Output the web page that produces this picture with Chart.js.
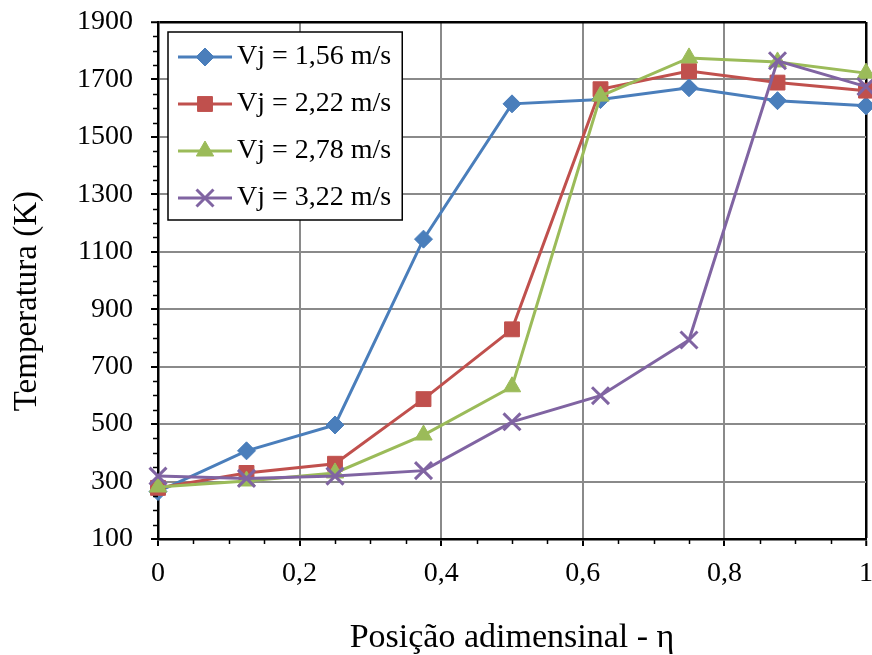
<!DOCTYPE html>
<html>
<head>
<meta charset="utf-8">
<script src="https://cdn.jsdelivr.net/npm/chart.js@4/dist/chart.umd.min.js"></script>
<style>
html,body{margin:0;padding:0;background:#fff;}
#wrap{width:872px;height:655px;position:relative;}
</style>
</head>
<body>
<div id="wrap"><canvas id="c" width="872" height="655"></canvas></div>
<script>
// ---- data ----
const positions = [0, 0.125, 0.25, 0.375, 0.5, 0.625, 0.75, 0.875, 1];
const seriesLabels = ['Vj = 1,56 m/s', 'Vj = 2,22 m/s', 'Vj = 2,78 m/s', 'Vj = 3,22 m/s'];
const tempVj156 = [265, 407, 497, 1144, 1615, 1630, 1671, 1626, 1608];
const tempVj222 = [278, 330, 362, 587, 830, 1666, 1729, 1689, 1661];
const tempVj278 = [281, 302, 330, 462, 630, 1642, 1775, 1761, 1722];
const tempVj322 = [319, 311, 319, 338, 508, 599, 793, 1765, 1675];
const xTickLabels = ['0', '0,2', '0,4', '0,6', '0,8', '1'];
const yTickLabels = ['100', '300', '500', '700', '900', '1100', '1300', '1500', '1700', '1900'];
const xTitle = 'Posição adimensinal - η';
const yTitle = 'Temperatura (K)';

// ---- styles ----
const colors = ['#4A7EBB', '#C0504D', '#9BBB59', '#8064A2'];
const markers = ['rectRot', 'rect', 'triangle', 'crossRot'];
const markerRadius = [9, 10.5, 10, 12];
const markerBorder = [1, 1, 1, 3];
const FONT = 'Liberation Serif';
const GRID = '#8a8a8a';

function drawMarker(ctx, style, r, x, y) {
  ctx.beginPath();
  if (style === 'rectRot') {
    ctx.moveTo(x - r, y); ctx.lineTo(x, y - r); ctx.lineTo(x + r, y); ctx.lineTo(x, y + r); ctx.closePath();
    ctx.fill(); ctx.stroke();
  } else if (style === 'rect') {
    const s = r * Math.SQRT1_2; ctx.rect(x - s, y - s, 2 * s, 2 * s); ctx.fill(); ctx.stroke();
  } else if (style === 'triangle') {
    ctx.moveTo(x, y - r);
    ctx.lineTo(x + r * Math.sin(2 * Math.PI / 3), y - r * Math.cos(2 * Math.PI / 3));
    ctx.lineTo(x + r * Math.sin(4 * Math.PI / 3), y - r * Math.cos(4 * Math.PI / 3));
    ctx.closePath(); ctx.fill(); ctx.stroke();
  } else {
    const d = r * Math.SQRT1_2;
    ctx.moveTo(x - d, y - d); ctx.lineTo(x + d, y + d);
    ctx.moveTo(x + d, y - d); ctx.lineTo(x - d, y + d);
    ctx.stroke();
  }
}

function makeSample(i) {
  const cv = document.createElement('canvas');
  cv.width = 64; cv.height = 28;
  const c = cv.getContext('2d');
  c.strokeStyle = colors[i]; c.fillStyle = colors[i];
  c.lineWidth = 3;
  c.beginPath(); c.moveTo(10, 14); c.lineTo(64, 14); c.stroke();
  c.lineWidth = markerBorder[i];
  drawMarker(c, markers[i], markerRadius[i], 37, 14);
  return cv;
}
const samples = [0, 1, 2, 3].map(makeSample);

const seriesValues = [tempVj156, tempVj222, tempVj278, tempVj322];
const datasets = seriesValues.map((vals, i) => ({
  label: seriesLabels[i],
  data: positions.map((p, k) => ({x: p, y: vals[k]})),
  borderColor: colors[i],
  backgroundColor: colors[i],
  borderWidth: 3,
  pointStyle: markers[i],
  pointRadius: markerRadius[i],
  pointHoverRadius: markerRadius[i],
  pointBackgroundColor: colors[i],
  pointBorderColor: colors[i],
  pointBorderWidth: markerBorder[i],
  tension: 0,
  clip: false,
  order: 3 - i
}));

const isEdge = (v, e) => Math.abs(v - e) < 1e-9;
const noPad = (s) => { s.paddingTop = 0; s.paddingBottom = 0; s.paddingLeft = 0; s.paddingRight = 0; };

const legendFrame = {
  id: 'legendFrame',
  beforeDraw(chart) {
    const lg = chart.legend;
    if (!lg || lg._framePatched) return;
    const orig = lg.draw.bind(lg);
    lg.draw = function (area) {
      const hb = lg.legendHitBoxes || [];
      if (hb.length) {
        let l = Infinity, t = Infinity, r = -Infinity, b = -Infinity;
        hb.forEach(h => { l = Math.min(l, h.left); t = Math.min(t, h.top); r = Math.max(r, h.left + h.width); b = Math.max(b, h.top + h.height); });
        const ctx = lg.ctx;
        ctx.save();
        const x0 = l - 9, y0 = t - 11, x1 = r + 11, y1 = b + 8;
        ctx.fillStyle = '#fff';
        ctx.fillRect(x0, y0, x1 - x0, y1 - y0);
        ctx.strokeStyle = '#000'; ctx.lineWidth = 1.5;
        ctx.strokeRect(x0, y0, x1 - x0, y1 - y0);
        ctx.restore();
      }
      orig(area);
    };
    lg._framePatched = true;
  }
};

const minorTicks = {
  id: 'minorTicks',
  afterDraw(chart) {
    const {ctx, chartArea: a} = chart;
    const xs = chart.scales.x, ys = chart.scales.y;
    ctx.save();
    ctx.strokeStyle = '#000'; ctx.lineWidth = 1.5;
    ctx.beginPath();
    for (let v = 150; v < 1900; v += 50) {
      if ((v - 100) % 200 === 0) continue;
      const py = Math.round(ys.getPixelForValue(v)) + 0.5;
      ctx.moveTo(a.left - 5, py); ctx.lineTo(a.left, py);
    }
    for (let k = 1; k < 20; k++) {
      if (k % 4 === 0) continue;
      const px = Math.round(xs.getPixelForValue(k * 0.05)) + 0.5;
      ctx.moveTo(px, a.bottom); ctx.lineTo(px, a.bottom + 5);
    }
    ctx.stroke();
    ctx.restore();
  }
};

new Chart(document.getElementById('c'), {
  type: 'line',
  data: {datasets},
  plugins: [legendFrame, minorTicks],
  options: {
    responsive: false,
    devicePixelRatio: 1,
    animation: false,
    events: [],
    layout: {autoPadding: false, padding: {left: 0, right: 6, top: 22, bottom: 0}},
    plugins: {
      tooltip: {enabled: false},
      legend: {
        position: 'chartArea',
        align: 'start',
        title: {display: true, text: ' ', font: {size: 10, lineHeight: 1}, padding: {top: 14, bottom: 0}},
        labels: {
          usePointStyle: true,
          pointStyleWidth: 46,
          boxHeight: 28,
          padding: 19,
          color: '#000',
          font: {family: FONT, size: 28},
          sort: (a, b) => a.datasetIndex - b.datasetIndex,
          generateLabels: (chart) => chart.data.datasets.map((ds, i) => ({
            text: ds.label, datasetIndex: i, pointStyle: samples[i],
            fillStyle: 'rgba(0,0,0,0)', strokeStyle: 'rgba(0,0,0,0)', lineWidth: 0,
            fontColor: '#000', hidden: false
          }))
        }
      }
    },
    scales: {
      x: {
        type: 'linear', min: 0, max: 1,
        afterFit: (s) => { s.height = 116; noPad(s); },
        ticks: {stepSize: 0.2, padding: 11, color: '#000', maxRotation: 0, autoSkip: false,
          font: {family: FONT, size: 28},
          callback: (v, i) => xTickLabels[i]},
        grid: {
          color: (c) => (c.tick && isEdge(c.tick.value, 1)) ? '#000' : GRID,
          lineWidth: (c) => (c.tick && isEdge(c.tick.value, 1)) ? 2.5 : 2,
          tickColor: '#000', tickLength: 7, tickWidth: 2
        },
        border: {color: '#000', width: 2.5},
        title: {display: true, text: xTitle, color: '#000',
          font: {family: FONT, size: 34, lineHeight: 1}, padding: {top: 0, bottom: 0}}
      },
      y: {
        min: 100, max: 1900,
        afterFit: (s) => { s.width = 158; noPad(s); },
        ticks: {stepSize: 200, padding: 18, color: '#000',
          font: {family: FONT, size: 28},
          callback: (v, i) => yTickLabels[i]},
        grid: {
          color: (c) => (c.tick && isEdge(c.tick.value, 1900)) ? '#000' : GRID,
          lineWidth: (c) => (c.tick && isEdge(c.tick.value, 1900)) ? 2.5 : 2,
          tickColor: '#000', tickLength: 7, tickWidth: 2
        },
        border: {color: '#000', width: 2.5},
        title: {display: true, text: yTitle + '\u00a0\u00a0\u00a0\u00a0\u00a0', color: '#000',
          font: {family: FONT, size: 33}, padding: {top: 8, bottom: 0}}
      }
    }
  }
});
</script>
</body>
</html>
